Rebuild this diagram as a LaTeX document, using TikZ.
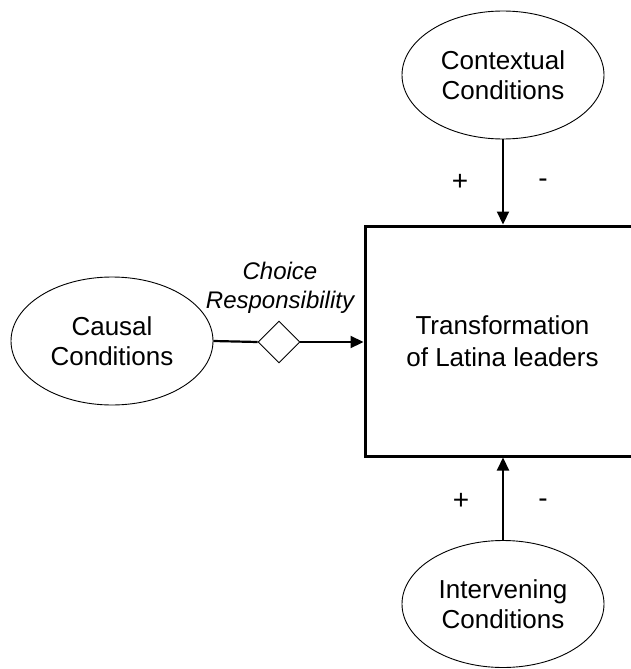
\documentclass[tikz,border=0pt]{standalone}
\usepackage{fontspec}
\setmainfont{Liberation Sans}
\usetikzlibrary{shapes.geometric,arrows.meta}
\begin{document}
\begin{tikzpicture}[x=1pt,y=-1pt,
  cond/.style={draw,ellipse,line width=0.9pt,inner sep=0pt,align=center,
    font=\fontsize{26}{30}\selectfont},
  mainbox/.style={draw,rectangle,line width=3pt,inner sep=0pt,align=center,
    font=\fontsize{26}{32}\selectfont},
  choicebox/.style={draw,diamond,line width=0.9pt,inner sep=0pt,aspect=1,fill=white},
  sign/.style={font=\fontsize{28}{32}\selectfont,inner sep=0pt},
  flow/.style={line width=2.2pt,-{Triangle[length=13pt,width=12pt]}},
  link/.style={line width=2.2pt}]
\useasboundingbox (0,0) rectangle (631,669);
\fill[white] (0,0) rectangle (631,669);
\clip (0,0) rectangle (631,669);
\node[cond,minimum width=202pt,minimum height=128pt] (ctx) at (503,75) {Contextual\\Conditions};
\node[cond,minimum width=202pt,minimum height=128pt] (cau) at (112,341) {Causal\\Conditions};
\node[cond,minimum width=202pt,minimum height=127pt] (inv) at (503,604) {Intervening\\Conditions};
\node[mainbox,minimum width=275pt,minimum height=230pt] (box) at (502.5,341) {Transformation\\of Latina leaders};
\node[choicebox,minimum width=42pt,minimum height=42pt] (dia) at (279,342) {};
\node[font=\itshape\fontsize{24}{29}\selectfont,align=center,inner sep=0pt] (lab) at (280,288) {Choice\\Responsibility};
\draw[link] (cau.east) -- (dia.west);
\draw[flow] (dia.east) -- (dia.east -| box.west);
\draw[flow] (ctx.south) -- (ctx.south |- box.north);
\draw[flow] (inv.north) -- (inv.north |- box.south);
\node[sign] (p1) at (460,182) {+};
\node[sign] (m1) at (543,183) {-};
\node[sign] (p2) at (461,501) {+};
\node[sign] (m2) at (543,503) {-};
\end{tikzpicture}
\end{document}
